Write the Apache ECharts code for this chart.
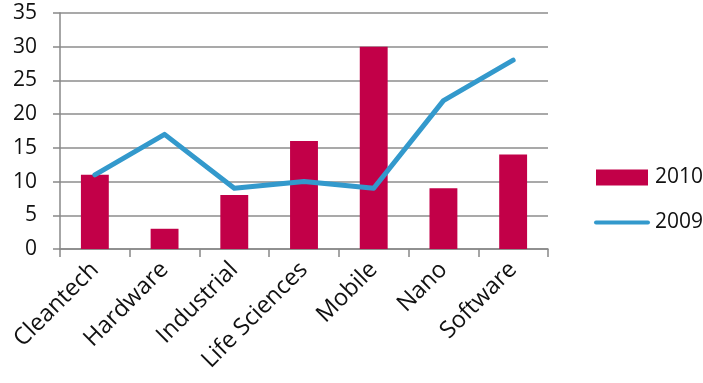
<!DOCTYPE html>
<html>
<head>
<meta charset="utf-8">
<script src="https://cdn.jsdelivr.net/npm/echarts@6/dist/echarts.min.js"></script>
<style>
  html, body { margin: 0; padding: 0; background: #ffffff; }
  #chart { width: 703px; height: 383px; }
</style>
</head>
<body>
<div id="chart"></div>
<script>
// Sector categories and yearly counts
const categories = ['Cleantech', 'Hardware', 'Industrial', 'Life Sciences', 'Mobile', 'Nano', 'Software'];
const values2010 = [11, 3, 8, 16, 30, 9, 14];
const values2009 = [11, 17, 9, 10, 9, 22, 28];
const yTicks = { min: 0, max: 35, interval: 5 };

const fontFamily = '"Open Sans", "Noto Sans", sans-serif';
const barColor = '#C20048';
const lineColor = '#3399CC';
const chart = echarts.init(document.getElementById('chart'), null, { renderer: 'canvas' });

chart.setOption({
  animation: false,
  textStyle: { fontFamily: fontFamily },
  grid: { left: 60, right: 155, top: 13, bottom: 134, containLabel: false },
  legend: [
    {
      left: 591,
      top: 162,
      itemWidth: 52,
      itemHeight: 16,
      data: [{ name: '2010', icon: 'rect' }],
      textStyle: { fontSize: 21, color: '#111', fontFamily: fontFamily, padding: [0, 0, 0, 2] }
    },
    {
      left: 589,
      top: 207,
      itemWidth: 56,
      itemHeight: 24,
      data: [{
        name: '2009',
        icon: 'path://M2,10 L54,10 A2,2 0 0 1 54,14 L2,14 A2,2 0 0 1 2,10 Z'
      }],
      itemStyle: { color: lineColor },
      textStyle: { fontSize: 21, color: '#111', fontFamily: fontFamily }
    }
  ],
  xAxis: {
    type: 'category',
    data: categories,
    boundaryGap: true,
    axisLine: { show: true, lineStyle: { color: '#888', width: 1.5 } },
    axisTick: { show: true, length: 8, lineStyle: { color: '#888', width: 1.5 } },
    axisLabel: {
      rotate: 45,
      fontSize: 23.5,
      color: '#111',
      margin: 17,
      fontFamily: fontFamily
    }
  },
  yAxis: {
    type: 'value',
    min: yTicks.min,
    max: yTicks.max,
    interval: yTicks.interval,
    axisLine: { show: true, lineStyle: { color: '#888', width: 1.5 } },
    axisTick: { show: true, length: 7, lineStyle: { color: '#888', width: 1.5 } },
    splitLine: { show: true, lineStyle: { color: '#8c8c8c', width: 1.5 } },
    axisLabel: { fontSize: 21, color: '#111', margin: 23, fontFamily: fontFamily }
  },
  series: [
    {
      name: '2010',
      type: 'bar',
      data: values2010,
      barWidth: '40%',
      itemStyle: { color: barColor }
    },
    {
      name: '2009',
      type: 'line',
      data: values2009,
      symbol: 'none',
      showSymbol: false,
      lineStyle: { color: lineColor, width: 5, cap: 'round', join: 'round' },
      itemStyle: { color: lineColor }
    }
  ]
});
</script>
</body>
</html>
